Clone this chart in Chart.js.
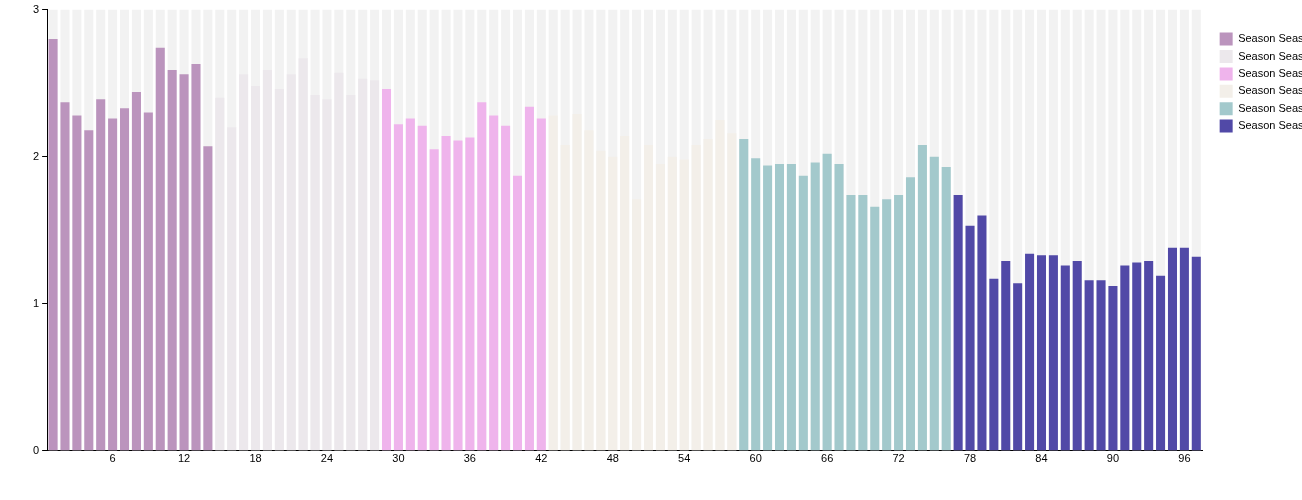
<!DOCTYPE html>
<html>
<head>
<meta charset="utf-8">
<script src="https://cdn.jsdelivr.net/npm/chart.js@4/dist/chart.umd.min.js"></script>
<style>
  html, body { margin: 0; padding: 0; background: #fff; overflow: hidden; }
  #wrap { position: relative; width: 1335px; height: 500px; }
</style>
</head>
<body>
<div id="wrap"><canvas id="chart"></canvas></div>
<script>
// average rating per episode, one array per season
const season1 = [2.80, 2.37, 2.28, 2.18, 2.39, 2.26, 2.33, 2.44, 2.30, 2.74, 2.59, 2.56, 2.63, 2.07]
const season2 = [2.40, 2.20, 2.56, 2.48, 2.59, 2.46, 2.56, 2.67, 2.42, 2.39, 2.57, 2.42, 2.53, 2.52]
const season3 = [2.46, 2.22, 2.26, 2.21, 2.05, 2.14, 2.11, 2.13, 2.37, 2.28, 2.21, 1.87, 2.34, 2.26]
const season4 = [2.28, 2.08, 2.29, 2.18, 2.04, 2.00, 2.14, 1.71, 2.08, 1.95, 2.00, 1.98, 2.08, 2.12, 2.25, 2.16]
const season5 = [2.12, 1.99, 1.94, 1.95, 1.95, 1.87, 1.96, 2.02, 1.95, 1.74, 1.74, 1.66, 1.71, 1.74, 1.86, 2.08, 2.00, 1.93]
const season6 = [1.74, 1.53, 1.60, 1.17, 1.29, 1.14, 1.34, 1.33, 1.33, 1.26, 1.29, 1.16, 1.16, 1.12, 1.26, 1.28, 1.29, 1.19, 1.38, 1.38, 1.32]

const seasonNames = ['Season Season 1', 'Season Season 2', 'Season Season 3', 'Season Season 4', 'Season Season 5', 'Season Season 6']
const seasonColors = ['#bb94bd', '#ece8ec', '#efb4ec', '#f3efe9', '#a3c9cc', '#5149a7']
const ratingMax = 3

const seasons = [season1, season2, season3, season4, season5, season6]
const episodeCount = seasons.reduce((n, s) => n + s.length, 0)
const labels = []
for (let i = 1; i <= episodeCount; i++) labels.push(String(i))

// each season only fills its own episode slots
let offset = 0
const seasonDatasets = seasons.map((values, idx) => {
  const data = new Array(episodeCount).fill(null)
  values.forEach((v, i) => { data[offset + i] = v })
  offset += values.length
  return {
    label: seasonNames[idx],
    data: data,
    backgroundColor: seasonColors[idx],
    grouped: false,
    order: 1
  }
})

const backgroundDataset = {
  label: 'max',
  data: new Array(episodeCount).fill(ratingMax),
  backgroundColor: '#f2f2f2',
  grouped: false,
  order: 10
}

const tickFont = { family: 'Liberation Sans, Arial, sans-serif', size: 11 }

const ctx = document.getElementById('chart').getContext('2d')
new Chart(ctx, {
  type: 'bar',
  data: {
    labels: labels,
    datasets: [backgroundDataset, ...seasonDatasets]
  },
  options: {
    responsive: true,
    maintainAspectRatio: false,
    animation: false,
    layout: { padding: { top: 7, left: 30, right: 0, bottom: 32 } },
    datasets: {
      bar: { barPercentage: 0.76, categoryPercentage: 1.0 }
    },
    plugins: {
      legend: {
        position: 'right',
        align: 'start',
        title: { display: true, text: '', font: { size: 1 }, padding: { top: 9, bottom: 11 } },
        labels: {
          boxWidth: 13,
          boxHeight: 13,
          padding: 4.4,
          color: '#000',
          font: tickFont,
          filter: item => item.text !== 'max'
        }
      },
      tooltip: { enabled: false }
    },
    scales: {
      x: {
        grid: { display: false, drawTicks: false },
        border: { display: true, color: '#000' },
        ticks: {
          autoSkip: false,
          maxRotation: 0,
          color: '#000',
          font: tickFont,
          padding: 2,
          callback: function(value, index) {
            return (index + 1) % 6 === 0 ? labels[index] : ''
          }
        }
      },
      y: {
        min: 0,
        max: 3,
        grid: { drawOnChartArea: false, drawTicks: true, tickLength: 5, color: '#000' },
        border: { display: true, color: '#000' },
        ticks: { stepSize: 1, color: '#000', padding: 3, font: tickFont }
      },
      // empty spacer between plot and legend
      gap: {
        type: 'linear',
        axis: 'y',
        position: 'right',
        grid: { display: false, drawTicks: false },
        border: { display: false },
        ticks: { display: false },
        afterFit: scale => { scale.width = 13 }
      }
    }
  }
})
</script>
</body>
</html>
